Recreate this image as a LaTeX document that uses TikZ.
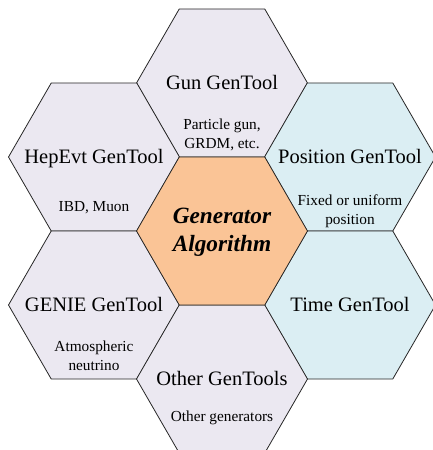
\documentclass[tikz,border=0pt]{standalone}
\usepackage{fontspec}
\setmainfont{Liberation Serif}
\usetikzlibrary{shapes.geometric, positioning, calc}
\definecolor{hexgray}{RGB}{235, 232, 241}
\definecolor{hexblue}{RGB}{219, 238, 243}
\definecolor{hexorange}{RGB}{250, 196, 150}
\tikzstyle{hex} = [regular polygon, regular polygon sides=6, minimum size=171pt, inner sep=0pt, outer sep=0pt, draw=black!85, line width=0.8pt]
\tikzstyle{tool} = [hex, fill=hexgray]
\tikzstyle{place} = [hex, fill=hexblue]
\tikzstyle{core} = [hex, fill=hexorange]
\tikzstyle{title} = [font=\fontsize{20.5}{24}\selectfont, inner sep=0pt, text height=13.6pt, text depth=0pt]
\tikzstyle{note} = [font=\fontsize{15.3}{18.8}\selectfont, align=center, inner sep=0pt]
\tikzstyle{coretext} = [font=\fontsize{23.3}{28}\selectfont\bfseries\itshape, align=center, inner sep=0pt]

\begin{document}
\begin{tikzpicture}[x=1pt, y=-1pt]
\useasboundingbox (0,0) rectangle (433,450);

% hexagons
\node (gun) [tool] at (222,83) {};
\node (hepevt) [tool] at (94,157) {};
\node (position) [place] at (350,157) {};
\node (genie) [tool] at (94,305) {};
\node (time) [place] at (350,305) {};
\node (other) [tool] at (222,379) {};
\node (alg) [core] at (222,231) {};

% titles
\node (gunT) [title] at (gun) {Gun GenTool};
\node (hepevtT) [title] at (hepevt) {HepEvt GenTool};
\node (positionT) [title] at (position) {Position GenTool};
\node (genieT) [title] at (genie) {GENIE GenTool};
\node (timeT) [title] at (time) {Time GenTool};
\node (otherT) [title] at (other) {Other GenTools};
\node (algT) [coretext] at ($(alg)+(0,1)$) {Generator\\Algorithm};

% notes
\node (gunN) [note] at ($(gun)+(0,52)$) {Particle gun,\\GRDM, etc.};
\node (hepevtN) [note] at ($(hepevt)+(0,51)$) {IBD, Muon};
\node (positionN) [note] at ($(position)+(0,54)$) {Fixed or uniform\\position};
\node (genieN) [note] at ($(genie)+(0,51)$) {Atmospheric\\neutrino};
\node (otherN) [note] at ($(other)+(0,39)$) {Other generators};

\end{tikzpicture}
\end{document}
